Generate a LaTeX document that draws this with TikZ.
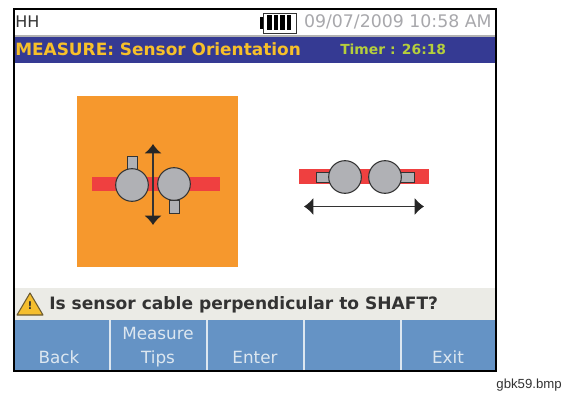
\documentclass[tikz,border=0pt]{standalone}
\usepackage{fontspec}
\setmainfont{DejaVu Sans}
\newfontfamily\labelfont{Liberation Sans}
\usetikzlibrary{arrows.meta}
\definecolor{barblue}{HTML}{353A93}
\definecolor{titleyellow}{HTML}{F7C02A}
\definecolor{timergreen}{HTML}{B5CF3C}
\definecolor{softblue}{HTML}{6593C5}
\definecolor{softkey}{HTML}{DDE7F0}
\definecolor{msgbar}{HTML}{EBEBE6}
\definecolor{orangebg}{HTML}{F6982D}
\definecolor{redbar}{HTML}{EF4040}
\definecolor{sensor}{HTML}{B0B1B5}
\definecolor{dategray}{HTML}{A8A8AC}
\definecolor{ink}{HTML}{333333}
\definecolor{warnfill}{HTML}{F5BE2E}
\definecolor{warnedge}{HTML}{6B5A30}
\tikzset{
  x=0.75pt,y=-0.75pt,
  softbtn/.style={fill=softblue,draw=none},
  softsep/.style={draw=softkey,line width=1.5pt},
  keytext/.style={text=softkey,font=\fontsize{12.6}{13}\selectfont,inner sep=0pt,anchor=base},
  cable/.style={fill=redbar,draw=none},
  sensorbody/.style={circle,fill=sensor,draw=ink,line width=0.8pt,inner sep=0pt,minimum size=24.5pt},
  sensortab/.style={rectangle,fill=sensor,draw=ink,line width=0.7pt,inner sep=0pt},
  movearrow/.style={draw=ink,line width=1pt,{Latex[length=7pt,width=13pt,color=black!85]}-{Latex[length=7pt,width=13pt,color=black!85]}},
}
\begin{document}
\begin{tikzpicture}
\useasboundingbox (0,0) rectangle (566,392);
\fill[white] (0,0) rectangle (566,392);
% header
\fill[barblue] (14,37) rectangle (496,63);
\draw[black!30,line width=0.8pt] (14,36) -- (496,36);
\node[anchor=base west,inner sep=0pt,text=ink,font=\fontsize{12}{12}\selectfont] (hh) at (15,28) {HH};
\node[anchor=base east,inner sep=0pt,text=dategray,font=\fontsize{13}{13}\selectfont] (date) at (492,28) {09/07/2009 10:58 AM};
\node[anchor=base west,inner sep=0pt,text=titleyellow,font=\fontsize{12.7}{13}\selectfont\bfseries] (title) at (15,56) {MEASURE: Sensor Orientation};
\node[anchor=base west,inner sep=0pt,text=timergreen,font=\fontsize{10.4}{12}\selectfont\bfseries] (timer) at (340,55) {Timer : 26:18};
% battery
\draw[ink,line width=0.7pt,fill=white] (263,13) rectangle (296,33);
\fill[black] (259.5,17) rectangle (263,29);
\foreach \bx in {267,273.5,280,286.5} \fill[black] (\bx,15.5) rectangle (\bx+4.5,30.5);
% orange panel
\fill[orangebg] (77,96) rectangle (238,267);
\fill[cable] (92,177) rectangle (220,191);
\node[sensortab,minimum width=7.5pt,minimum height=10pt] (ltab) at (132,163.5) {};
\node[sensortab,minimum width=7.5pt,minimum height=10pt] (rtab) at (174,207) {};
\node[sensorbody] (lc) at (132,185) {};
\node[sensorbody] (rc) at (174,184) {};
\coordinate (vtop) at (153,144);
\coordinate (vbot) at (153,225);
\draw[movearrow] (vtop) -- (vbot);
% right figure
\fill[cable] (299,169) rectangle (429,183.5);
\node[sensortab,minimum width=10.5pt,minimum height=7.5pt] (ltab2) at (323,177) {};
\node[sensortab,minimum width=10.5pt,minimum height=7.5pt] (rtab2) at (407,177) {};
\node[sensorbody] (lc2) at (345,177) {};
\node[sensorbody] (rc2) at (385,177) {};
\coordinate (hleft) at (304,206.5);
\coordinate (hright) at (424,206.5);
\draw[movearrow] (hleft) -- (hright);
% message
\fill[msgbar] (14,288) rectangle (496,320);
\draw[warnedge,line width=0.8pt,fill=warnfill,line join=round] (30,293) -- (43,315) -- (17,315) -- cycle;
\node[inner sep=0pt,text=ink,font=\fontsize{8}{8}\selectfont\bfseries] (warn) at (30,306) {!};
\node[anchor=base west,inner sep=0pt,text=ink,font=\fontsize{12.8}{13}\selectfont\bfseries] (msg) at (49,309) {Is sensor cable perpendicular to SHAFT?};
% softkeys
\fill[softbtn] (14,320) rectangle (496,370);
\foreach \sx in {110,207,304,401} \draw[softsep] (\sx,320) -- (\sx,370);
\node[keytext] (k1) at (59,363) {Back};
\node[keytext] (k2a) at (158,339) {Measure};
\node[keytext] (k2b) at (158,363) {Tips};
\node[keytext] (k3) at (255,363) {Enter};
\node[keytext] (k5) at (448,363) {Exit};
% frame
\draw[black,line width=1.9pt] (14,9) rectangle (496,371);
\node[anchor=base east,inner sep=0pt,text=ink,font=\labelfont\fontsize{9.9}{11}\selectfont] (file) at (562,388) {gbk59.bmp};
\end{tikzpicture}
\end{document}
